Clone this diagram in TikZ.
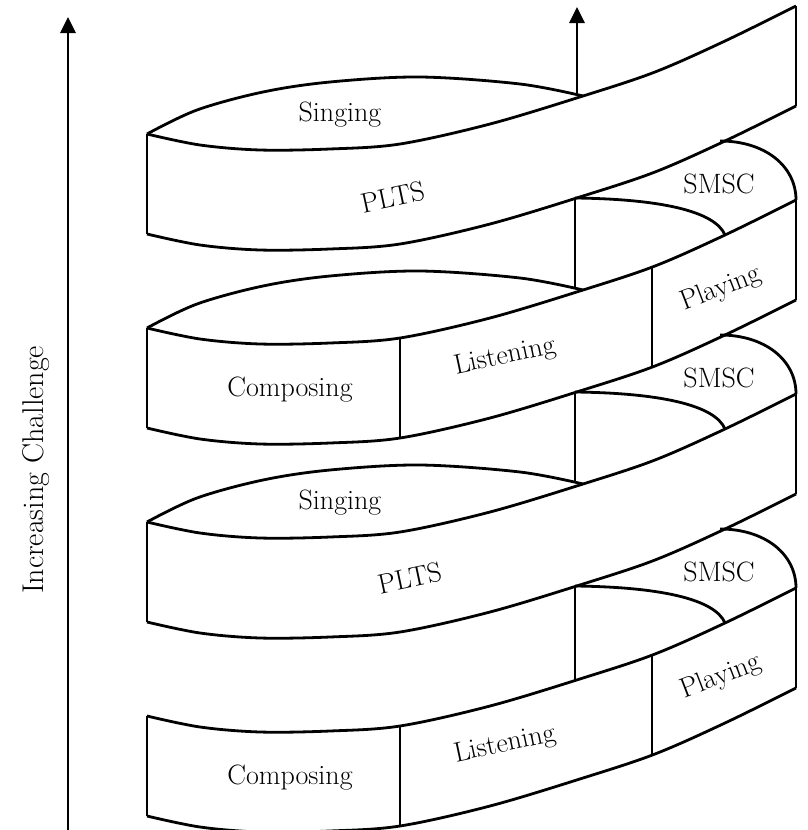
\documentclass[tikz,border=0pt]{standalone}
\usetikzlibrary{arrows.meta}

\begin{document}
\begin{tikzpicture}[x=1pt,y=-1pt,line width=2.8pt,line join=round]
\tikzset{lbl/.style={font=\fontsize{28}{33}\selectfont,inner sep=0pt},
  uparrow/.style={-{Triangle[length=16pt,width=15pt]}}}
\useasboundingbox (0,0) rectangle (807,830);
% axis
\coordinate (axbot) at (68,830); \coordinate (axtop) at (68,17);
\draw[uparrow] (axbot) -- (axtop);
\node[lbl,font=\fontsize{30}{36}\selectfont,rotate=90] (chal) at (36,470) {Increasing Challenge};
% ribbon, one turn after the other
\foreach \k in {0,...,3}{
\begin{scope}[shift={(0,194*\k)}]
\foreach \s in {0,100}
  \draw[shift={(0,\s)}] plot[smooth,tension=.55] coordinates {(147,134) (200,145) (260,150) (330,149) (400,144) (490,124) (583,96) (655,72) (725,41) (796,6)};
\draw (147,134) -- (147,234) (796,6) -- (796,106);
\ifnum\k<3
  \draw plot[smooth,tension=.55] coordinates {(147,134) (197,110) (263,92) (330,82) (420,77) (520,84) (583,96)};
  \pgfmathsetmacro\vbot{\k<2 ? 289 : 293}
  \draw (575,198) -- (575,\vbot);
  \draw (575,198) .. controls (660,199) and (715,211) .. (725,235);
  \draw (720,141) .. controls (765,141) and (796,166) .. (796,200);
  \node[lbl] (smsc\k) at (719,184) {SMSC};
\fi
\ifodd\k
  \draw (400,144) -- (400,244) (652,73) -- (652,173);
  \node[lbl] (comp\k) at (290,196) {Composing};
  \node[lbl,rotate=12] (list\k) at (505,163) {Listening};
  \node[lbl,rotate=21] (play\k) at (721,95) {Playing};
\else
  \node[lbl] (sing\k) at (340,115) {Singing};
  \node[lbl,rotate=12] (plts\k) at (393+8.5*\k,197-3.5*\k) {PLTS};
\fi
\end{scope}}
% top arrow
\coordinate (upbot) at (577,94); \coordinate (uptop) at (577,7);
\draw[uparrow] (upbot) -- (uptop);
\end{tikzpicture}
\end{document}
